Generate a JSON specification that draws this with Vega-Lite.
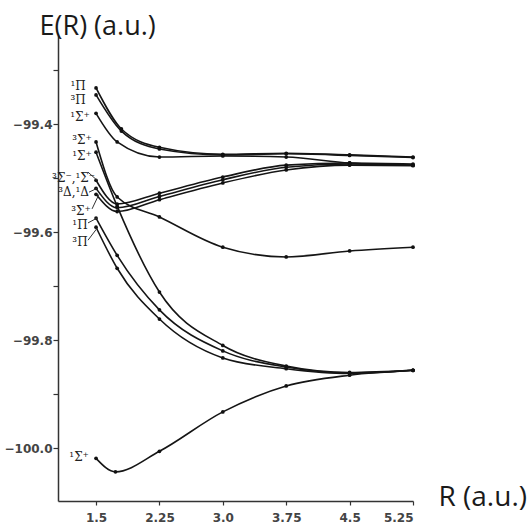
{
  "$schema": "https://vega.github.io/schema/vega-lite/v6.json",
  "width": 355,
  "height": 466,
  "autosize": {"type": "none"},
  "padding": {"left": 58, "top": 35, "right": 116, "bottom": 22},
  "background": "white",
  "config": {"view": {"stroke": null}},
  "datasets": {
    "curves": [
      {"curve": "1Pi_a", "R": 1.5, "E": -99.333}, {"curve": "1Pi_a", "R": 1.8, "E": -99.409}, {"curve": "1Pi_a", "R": 2.25, "E": -99.443}, {"curve": "1Pi_a", "R": 3.0, "E": -99.456}, {"curve": "1Pi_a", "R": 3.75, "E": -99.454}, {"curve": "1Pi_a", "R": 4.5, "E": -99.457}, {"curve": "1Pi_a", "R": 5.25, "E": -99.461},
      {"curve": "3Pi_a", "R": 1.5, "E": -99.346}, {"curve": "3Pi_a", "R": 1.8, "E": -99.413}, {"curve": "3Pi_a", "R": 2.25, "E": -99.446}, {"curve": "3Pi_a", "R": 3.0, "E": -99.457}, {"curve": "3Pi_a", "R": 3.75, "E": -99.455}, {"curve": "3Pi_a", "R": 4.5, "E": -99.458}, {"curve": "3Pi_a", "R": 5.25, "E": -99.462},
      {"curve": "1Sig_a", "R": 1.5, "E": -99.380}, {"curve": "1Sig_a", "R": 1.75, "E": -99.433}, {"curve": "1Sig_a", "R": 2.25, "E": -99.461}, {"curve": "1Sig_a", "R": 3.0, "E": -99.459}, {"curve": "1Sig_a", "R": 3.75, "E": -99.461}, {"curve": "1Sig_a", "R": 4.5, "E": -99.472}, {"curve": "1Sig_a", "R": 5.25, "E": -99.476},
      {"curve": "3Sig_b", "R": 1.5, "E": -99.433}, {"curve": "3Sig_b", "R": 1.75, "E": -99.535}, {"curve": "3Sig_b", "R": 2.25, "E": -99.572}, {"curve": "3Sig_b", "R": 3.0, "E": -99.628}, {"curve": "3Sig_b", "R": 3.75, "E": -99.646}, {"curve": "3Sig_b", "R": 4.5, "E": -99.635}, {"curve": "3Sig_b", "R": 5.25, "E": -99.628},
      {"curve": "1Sig_b", "R": 1.5, "E": -99.452}, {"curve": "1Sig_b", "R": 1.75, "E": -99.552}, {"curve": "1Sig_b", "R": 2.25, "E": -99.711}, {"curve": "1Sig_b", "R": 3.0, "E": -99.810}, {"curve": "1Sig_b", "R": 3.75, "E": -99.848}, {"curve": "1Sig_b", "R": 4.5, "E": -99.860}, {"curve": "1Sig_b", "R": 5.25, "E": -99.856},
      {"curve": "3Sigm", "R": 1.5, "E": -99.504}, {"curve": "3Sigm", "R": 1.75, "E": -99.548}, {"curve": "3Sigm", "R": 2.25, "E": -99.528}, {"curve": "3Sigm", "R": 3.0, "E": -99.498}, {"curve": "3Sigm", "R": 3.75, "E": -99.476}, {"curve": "3Sigm", "R": 4.5, "E": -99.472}, {"curve": "3Sigm", "R": 5.25, "E": -99.474},
      {"curve": "3Delta", "R": 1.5, "E": -99.519}, {"curve": "3Delta", "R": 1.75, "E": -99.555}, {"curve": "3Delta", "R": 2.25, "E": -99.534}, {"curve": "3Delta", "R": 3.0, "E": -99.503}, {"curve": "3Delta", "R": 3.75, "E": -99.480}, {"curve": "3Delta", "R": 4.5, "E": -99.474}, {"curve": "3Delta", "R": 5.25, "E": -99.476},
      {"curve": "3Sig_c", "R": 1.5, "E": -99.530}, {"curve": "3Sig_c", "R": 1.75, "E": -99.562}, {"curve": "3Sig_c", "R": 2.25, "E": -99.540}, {"curve": "3Sig_c", "R": 3.0, "E": -99.509}, {"curve": "3Sig_c", "R": 3.75, "E": -99.485}, {"curve": "3Sig_c", "R": 4.5, "E": -99.476}, {"curve": "3Sig_c", "R": 5.25, "E": -99.477},
      {"curve": "1Pi_b", "R": 1.5, "E": -99.574}, {"curve": "1Pi_b", "R": 1.75, "E": -99.643}, {"curve": "1Pi_b", "R": 2.25, "E": -99.744}, {"curve": "1Pi_b", "R": 3.0, "E": -99.820}, {"curve": "1Pi_b", "R": 3.75, "E": -99.850}, {"curve": "1Pi_b", "R": 4.5, "E": -99.861}, {"curve": "1Pi_b", "R": 5.25, "E": -99.856},
      {"curve": "3Pi_b", "R": 1.5, "E": -99.591}, {"curve": "3Pi_b", "R": 1.75, "E": -99.667}, {"curve": "3Pi_b", "R": 2.25, "E": -99.761}, {"curve": "3Pi_b", "R": 3.0, "E": -99.833}, {"curve": "3Pi_b", "R": 3.75, "E": -99.853}, {"curve": "3Pi_b", "R": 4.5, "E": -99.862}, {"curve": "3Pi_b", "R": 5.25, "E": -99.856},
      {"curve": "X1Sig", "R": 1.5, "E": -100.019}, {"curve": "X1Sig", "R": 1.73, "E": -100.044}, {"curve": "X1Sig", "R": 2.25, "E": -100.006}, {"curve": "X1Sig", "R": 3.0, "E": -99.933}, {"curve": "X1Sig", "R": 3.75, "E": -99.885}, {"curve": "X1Sig", "R": 4.5, "E": -99.865}, {"curve": "X1Sig", "R": 5.25, "E": -99.856}
    ],
    "labels": [
      {"text": "¹Π", "R": 1.287, "E": -99.330},
      {"text": "³Π", "R": 1.287, "E": -99.356},
      {"text": "¹Σ⁺", "R": 1.31, "E": -99.387},
      {"text": "³Σ⁺", "R": 1.334, "E": -99.430},
      {"text": "¹Σ⁺", "R": 1.334, "E": -99.459},
      {"text": "³Σ⁻,¹Σ⁻", "R": 1.235, "E": -99.500},
      {"text": "³Δ,¹Δ", "R": 1.235, "E": -99.526},
      {"text": "³Σ⁺", "R": 1.322, "E": -99.561},
      {"text": "¹Π", "R": 1.31, "E": -99.587},
      {"text": "³Π", "R": 1.31, "E": -99.619},
      {"text": "¹Σ⁺", "R": 1.30, "E": -100.017}
    ],
    "leaders": [
      {"R": 1.405, "E": -99.489, "R2": 1.512, "E2": -99.504},
      {"R": 1.417, "E": -99.526, "R2": 1.512, "E2": -99.519},
      {"R": 1.453, "E": -99.557, "R2": 1.535, "E2": -99.530},
      {"R": 1.405, "E": -99.583, "R2": 1.512, "E2": -99.574},
      {"R": 1.405, "E": -99.615, "R2": 1.512, "E2": -99.593}
    ]
  },
  "layer": [
    {
      "data": {"name": "curves"},
      "mark": {"type": "line", "interpolate": "monotone", "color": "#151515", "strokeWidth": 1.6},
      "encoding": {
        "x": {
          "field": "R", "type": "quantitative",
          "scale": {"domain": [1.05, 5.25], "nice": false, "zero": false},
          "axis": {
            "values": [1.5, 2.25, 3.0, 3.75, 4.5, 5.25],
            "labelExpr": "datum.value == 3 ? '3.0' : format(datum.value, '')",
            "grid": false, "domainColor": "#333", "domainWidth": 1.5,
            "tickColor": "#333", "tickSize": 4, "tickWidth": 1.2,
            "labelFont": "DejaVu Sans", "labelFontSize": 12, "labelFontWeight": "bold", "labelColor": "#444",
            "labelPadding": 7,
            "title": "R (a.u.)", "titleFont": "Open Sans", "titleFontSize": 28, "titleFontWeight": "normal",
            "titleColor": "#1a1a1a", "titleAlign": "left", "titleBaseline": "alphabetic",
            "titleAnchor": null, "titleX": 380, "titleY": 4
          }
        },
        "y": {
          "field": "E", "type": "quantitative",
          "scale": {"domain": [-100.098, -99.235], "nice": false, "zero": false},
          "axis": {
            "values": [-100.0, -99.9, -99.8, -99.7, -99.6, -99.5, -99.4, -99.3],
            "labelExpr": "abs(round(datum.value * 10)) % 2 == 0 ? format(datum.value, '.1f') : ''",
            "grid": false, "domainColor": "#333", "domainWidth": 1.5,
            "tickColor": "#333", "tickSize": 5, "tickWidth": 1.2,
            "labelFont": "DejaVu Sans", "labelFontSize": 12, "labelFontWeight": "bold", "labelColor": "#444",
            "labelPadding": 1,
            "title": "E(R) (a.u.)", "titleFont": "Open Sans", "titleFontSize": 27, "titleFontWeight": "normal",
            "titleColor": "#1a1a1a", "titleAngle": 0, "titleAlign": "left", "titleBaseline": "alphabetic",
            "titleAnchor": null, "titleX": -19, "titleY": -1
          }
        },
        "detail": {"field": "curve"}
      }
    },
    {
      "data": {"name": "curves"},
      "mark": {"type": "point", "filled": true, "color": "#111", "size": 14, "opacity": 1},
      "encoding": {
        "x": {"field": "R", "type": "quantitative"},
        "y": {"field": "E", "type": "quantitative"}
      }
    },
    {
      "data": {"name": "leaders"},
      "mark": {"type": "rule", "color": "#333", "strokeWidth": 1},
      "encoding": {
        "x": {"field": "R", "type": "quantitative"},
        "y": {"field": "E", "type": "quantitative"},
        "x2": {"field": "R2"},
        "y2": {"field": "E2"}
      }
    },
    {
      "data": {"name": "labels"},
      "mark": {"type": "text", "font": "DejaVu Serif", "fontSize": 12, "color": "#222", "align": "center", "baseline": "middle"},
      "encoding": {
        "x": {"field": "R", "type": "quantitative"},
        "y": {"field": "E", "type": "quantitative"},
        "text": {"field": "text"}
      }
    }
  ]
}
